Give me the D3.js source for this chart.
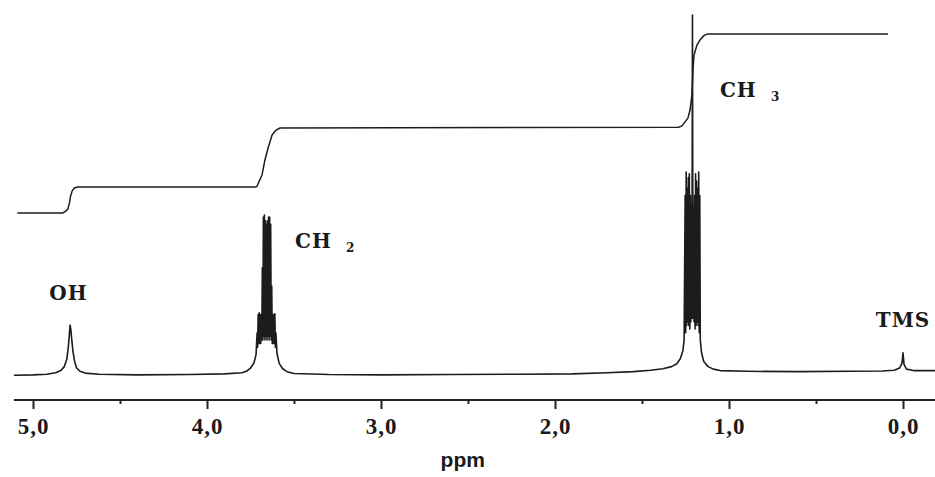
<!DOCTYPE html>
<html>
<head>
<meta charset="utf-8">
<script src="https://cdn.jsdelivr.net/npm/d3@7"></script>
<style>
body { margin: 0; background: #fff; }
svg { display: block; }
.spectrum, .integral { fill: none; stroke: #1c1c1c; stroke-linejoin: round; }
.spectrum { stroke-width: 1.6; }
.integral { stroke-width: 1.5; }
.axis-line { stroke: #222; stroke-width: 2; }
.tick line { stroke: #222; stroke-width: 2; }
.tick text { font-family: "Liberation Serif", "Times New Roman", serif; font-weight: bold; fill: #1a1a1a; }
.peak-label { font-family: "DejaVu Serif", serif; font-weight: bold; fill: #1a1a1a; }
.unit { font-family: "Liberation Sans", Arial, sans-serif; font-weight: bold; fill: #1a1a1a; }
</style>
</head>
<body>
<svg class="scene"></svg>
<script>

//
// data
//

var majorTicks = [5, 4, 3, 2, 1, 0];
var minorTicks = [4.5, 3.5, 2.5, 1.5, 0.5];

// spectrum trace: [ppm, intensity]
var spectrum = [
    // left baseline
    [5.11, 0.2], [5.0, 0.3], [4.92, 0.5], [4.87, 0.9],
    // OH
    [4.84, 1.5], [4.82, 2.6], [4.805, 4.8], [4.797, 8], [4.791, 11.5], [4.787, 14.1],
    [4.783, 13], [4.778, 10.5], [4.771, 7], [4.762, 4.3], [4.75, 2.3], [4.73, 1.3],
    [4.70, 0.8], [4.62, 0.5],
    [4.4, 0.3], [4.1, 0.4], [3.9, 0.6], [3.8, 0.9],
    // CH2 quartet (pen strokes packed into a dark band)
    [3.77, 1.4], [3.75, 2.2], [3.73, 3.6], [3.718, 6.0],
    [3.712, 12], [3.709, 8], [3.706, 17], [3.703, 9], [3.700, 17.5], [3.697, 9],
    [3.694, 17], [3.691, 9], [3.688, 17], [3.685, 10], [3.682, 30], [3.679, 10],
    [3.676, 44], [3.673, 11], [3.670, 44.6], [3.667, 10], [3.664, 43], [3.661, 11],
    [3.658, 42], [3.655, 10], [3.652, 43], [3.649, 11], [3.646, 44], [3.643, 10],
    [3.640, 44], [3.637, 11], [3.634, 42], [3.631, 10], [3.628, 25], [3.625, 9],
    [3.622, 17], [3.619, 9], [3.616, 17], [3.613, 9], [3.610, 17.2], [3.607, 8],
    [3.604, 12], [3.598, 6.3], [3.585, 3.5],
    [3.565, 2.0], [3.54, 1.2], [3.50, 0.7],
    [3.3, 0.4], [3.0, 0.3], [2.6, 0.4], [2.2, 0.5], [1.9, 0.6], [1.7, 0.9],
    [1.55, 1.2], [1.45, 1.6], [1.38, 2.0], [1.33, 2.6],
    // CH3 triplet
    [1.30, 3.4], [1.28, 4.8], [1.265, 7.0], [1.258, 10],
    [1.252, 50], [1.249, 12], [1.246, 56.5], [1.243, 14], [1.240, 52], [1.237, 15],
    [1.234, 55], [1.231, 14], [1.228, 56], [1.225, 13], [1.222, 50], [1.219, 15],
    [1.216, 48], [1.213, 16], [1.210, 100], [1.207, 16], [1.204, 47], [1.201, 15],
    [1.198, 50], [1.195, 13], [1.192, 56], [1.189, 14], [1.186, 54], [1.183, 15],
    [1.180, 52], [1.177, 14], [1.174, 56.5], [1.171, 12], [1.168, 50], [1.165, 10],
    [1.158, 6.5], [1.145, 4.0], [1.12, 2.6], [1.09, 1.9], [1.05, 1.5],
    [0.9, 1.3], [0.6, 1.2], [0.3, 1.3], [0.12, 1.4], [0.05, 1.6], [0.02, 2.2],
    // TMS
    [0.006, 3.5], [0.0, 6.4], [-0.006, 3.2], [-0.02, 1.9], [-0.06, 1.5], [-0.19, 1.5]
];

// integral trace: [ppm, relative area]
var integral = [
    [5.09, 0], [4.83, 0], [4.815, 0.05], [4.80, 0.15], [4.79, 0.4], [4.785, 0.62],
    [4.775, 0.85], [4.762, 0.96], [4.745, 1.0],
    [3.72, 1.0], [3.713, 1.03], [3.684, 1.46], [3.667, 2.04], [3.649, 2.5],
    [3.626, 3.0], [3.603, 3.19], [3.58, 3.27],
    [1.29, 3.3], [1.27, 3.35], [1.236, 3.65], [1.224, 3.96], [1.213, 4.54],
    [1.207, 5.5], [1.201, 6.08], [1.184, 6.46], [1.167, 6.65], [1.145, 6.82],
    [1.126, 6.88], [0.086, 6.88]
];

// peak labels: name, subscript, anchor [ppm, intensity]
var labelNames = ["OH", "CH", "CH", "TMS"];
var labelSubs = ["", "2", "3", ""];
var labelPpm = [4.796, 3.494, 1.052, 0.0];
var labelHeight = [21, 35.5, 77.3, 13.6];

//
// scene
//

var width = 935,
    height = 477;

var scene = d3.select(".scene")
    .attr("width", width)
    .attr("height", height);

var x = d3.scaleLinear().domain([5, 0]).range([33, 903]);
var y = d3.scaleLinear().domain([0, 100]).range([376, 15]);
var yInt = d3.scaleLinear().domain([0, 7]).range([213, 31]);

var axisY = 400;

//
// traces
//

var line = d3.line()
    .x(function (d) { return x(d[0]); })
    .y(function (d) { return y(d[1]); });

scene.append("path")
    .attr("class", "spectrum")
    .attr("d", line(spectrum));

var intLine = d3.line()
    .x(function (d) { return x(d[0]); })
    .y(function (d) { return yInt(d[1]); });

scene.append("path")
    .attr("class", "integral")
    .attr("d", intLine(integral));

//
// axis
//

var locale = d3.formatLocale({decimal: ",", thousands: ".", grouping: [3], currency: ["", ""]});
var fmt = locale.format(".1f");

scene.append("line")
    .attr("class", "axis-line")
    .attr("x1", x(5.11))
    .attr("x2", width)
    .attr("y1", axisY)
    .attr("y2", axisY);

var major = scene.append("g")
    .attr("transform", "translate(0," + axisY + ")")
    .call(d3.axisBottom(x).tickValues(majorTicks).tickSize(9).tickFormat(fmt));
major.attr("font-size", null).attr("font-family", null);
major.select(".domain").remove();
major.selectAll(".tick text")
    .attr("y", 18)
    .attr("dy", "0.71em")
    .attr("font-size", 23)
    .attr("letter-spacing", 1);

var minor = scene.append("g")
    .attr("transform", "translate(0," + axisY + ")")
    .call(d3.axisBottom(x).tickValues(minorTicks).tickSize(4).tickFormat(""));
minor.select(".domain").remove();

scene.append("text")
    .attr("class", "unit")
    .attr("x", x(2.53))
    .attr("y", 467)
    .attr("text-anchor", "middle")
    .attr("font-size", 21)
    .text("ppm");

//
// labels
//

labelNames.forEach(function (name, i) {
    var sub = labelSubs[i];
    scene.append("text")
        .attr("class", "peak-label")
        .attr("x", x(labelPpm[i]))
        .attr("y", y(labelHeight[i]))
        .attr("font-size", 20)
        .attr("letter-spacing", 1)
        .attr("text-anchor", sub ? "start" : "middle")
        .text(name);
    if (sub) {
        scene.append("text")
            .attr("class", "peak-label")
            .attr("x", x(labelPpm[i]) + 51)
            .attr("y", y(labelHeight[i]) + 4)
            .attr("font-size", 12)
            .text(sub);
    }
});

</script>
</body>
</html>
